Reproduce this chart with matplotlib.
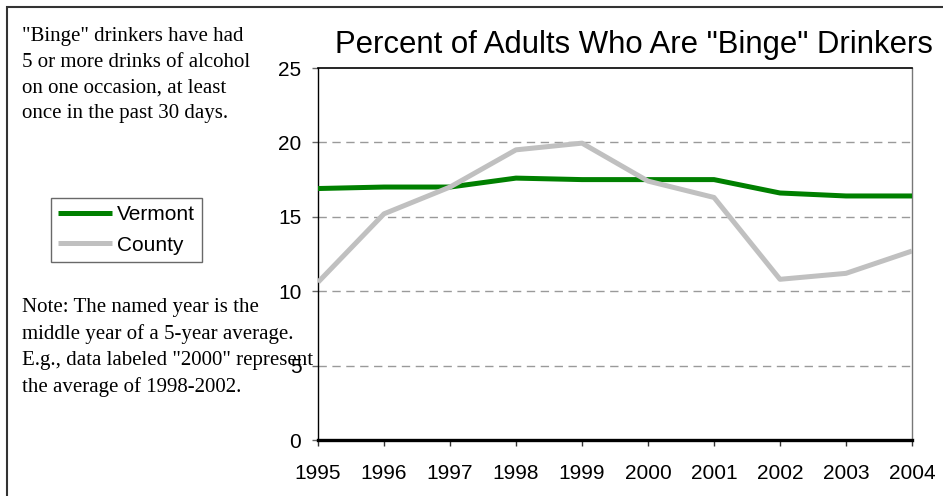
"""Percent of adults who are "binge" drinkers, Vermont vs county."""
import matplotlib

matplotlib.use("Agg")
import matplotlib.pyplot as plt
from matplotlib.patches import Rectangle

years = [1995, 1996, 1997, 1998, 1999, 2000, 2001, 2002, 2003, 2004]
vermont = [16.9, 17.0, 17.0, 17.6, 17.5, 17.5, 17.5, 16.6, 16.4, 16.4]
county = [10.6, 15.2, 17.0, 19.5, 19.95, 17.4, 16.3, 10.8, 11.2, 12.7]
y_ticks = [0, 5, 10, 15, 20, 25]

title = 'Percent of Adults Who Are "Binge" Drinkers'
definition = ('"Binge" drinkers have had\n5 or more drinks of alcohol\n'
              'on one occasion, at least\nonce in the past 30 days.')
note = ('Note: The named year is the\nmiddle year of a 5-year average.\n'
        'E.g., data labeled "2000" represent\nthe average of 1998-2002.')

W, H = 943, 496
plt.rcParams["font.family"] = ["Liberation Sans", "DejaVu Sans"]

fig = plt.figure(figsize=(W / 100, H / 100), dpi=100)
# outer frame, only the left and top edges show
fig.patches.append(Rectangle((7.5 / W, -0.5), 2.0, 1.5 - 6.5 / H,
                             transform=fig.transFigure, fill=False,
                             edgecolor="#333333", lw=1.5))

ax = fig.add_axes([318 / W, 1 - 440 / H, 594 / W, 372 / H])
ax.plot(years, vermont, color="#008000", lw=3.6, label="Vermont",
        solid_capstyle="butt", zorder=3)
ax.plot(years, county, color="#c0c0c0", lw=3.6, label="County",
        solid_capstyle="butt", zorder=3)

ax.set_xlim(years[0], years[-1])
ax.set_ylim(0, 25)
ax.set_xticks(years)
ax.set_yticks(y_ticks)
for y in y_ticks[1:-1]:
    ax.axhline(y, color="#9a9a9a", lw=1.0, ls=(0, (6, 4)), zorder=1)

ax.tick_params(axis="x", direction="out", length=4, width=1, pad=13.5,
               labelsize=15, color="#333333")
ax.tick_params(axis="y", direction="out", length=4, width=1, pad=8,
               labelsize=15, color="#666666")
ax.spines["bottom"].set_linewidth(2.4)
ax.spines["bottom"].set_color("black")
ax.spines["top"].set_linewidth(1.2)
ax.spines["left"].set_linewidth(1.0)
ax.spines["right"].set_color("#777777")
ax.spines["right"].set_linewidth(1.0)

fig.text(633.5 / W, 1 - 53.5 / H, title, ha="center", va="baseline",
         fontsize=22.4)

# side notes in a serif face
serif = ["Liberation Serif", "DejaVu Serif"]
fig.text(22.5 / W, 1 - 27 / H, definition, ha="left", va="top",
         family=serif, fontsize=15, linespacing=1.48)
fig.text(22.5 / W, 1 - 298 / H, note, ha="left", va="top",
         family=serif, fontsize=15, linespacing=1.48)

leg = fig.legend(loc="upper left", bbox_to_anchor=(51 / W, 1 - 198 / H),
                 fontsize=15, frameon=True, fancybox=False,
                 handlelength=2.6, handletextpad=0.2, borderpad=0.35,
                 labelspacing=0.55, borderaxespad=0)
leg.get_frame().set_edgecolor("#444444")
leg.get_frame().set_linewidth(1.0)

fig.savefig("out.png", dpi=100)
